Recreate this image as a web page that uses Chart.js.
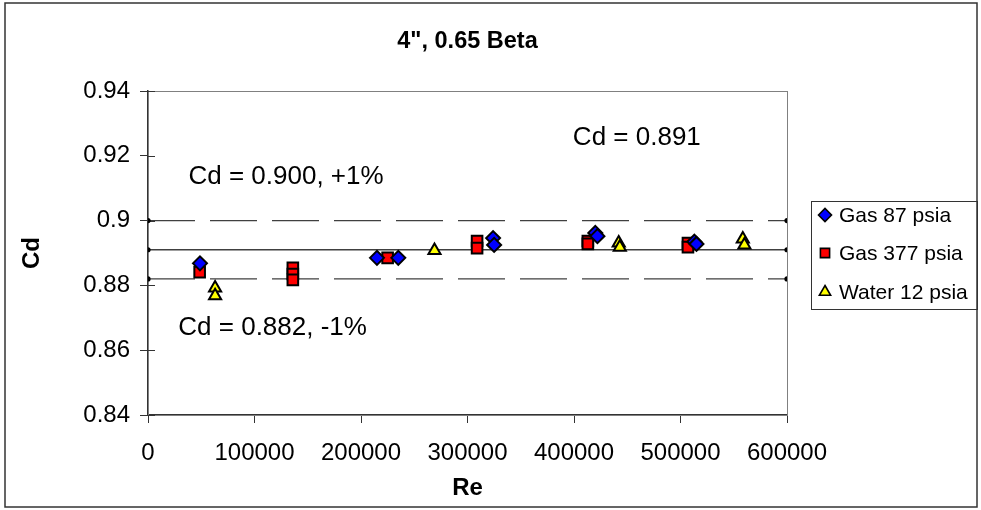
<!DOCTYPE html>
<html>
<head>
<meta charset="utf-8">
<script src="https://cdn.jsdelivr.net/npm/chart.js@4/dist/chart.umd.min.js"></script>
<style>
  html, body { margin: 0; padding: 0; background: #fff; }
  #wrap { width: 981px; height: 510px; position: relative; }
</style>
</head>
<body>
<div id="wrap"><canvas id="c" width="981" height="510"></canvas></div>
<script>
// ---- data ----
const chartTitle = '4", 0.65 Beta';
const xTitle = 'Re';
const yTitle = 'Cd';
const xTicks = [0, 100000, 200000, 300000, 400000, 500000, 600000];
const yTicks = [0.84, 0.86, 0.88, 0.9, 0.92, 0.94];

const gas87Re = [48800, 215000, 235000, 324000, 325000, 420000, 422000, 513000, 515000];
const gas87Cd = [0.8868, 0.8885, 0.8885, 0.8946, 0.8925, 0.8962, 0.8952, 0.8935, 0.8928];

const gas377Re = [48500, 136000, 136000, 136000, 225000, 309000, 309000, 413000, 413000, 507000, 507000];
const gas377Cd = [0.8841, 0.8854, 0.8835, 0.8817, 0.8885, 0.8937, 0.8915, 0.8937, 0.8928, 0.8931, 0.8918];

const water12Re = [63000, 63000, 269000, 442000, 443000, 558500, 560000];
const water12Cd = [0.8792, 0.8768, 0.8908, 0.8931, 0.8918, 0.8943, 0.8925];

const refLineRe = [0, 600000];
const refUpper = [0.900, 0.900];
const refMean = [0.891, 0.891];
const refLower = [0.882, 0.882];

const seriesNames = ['Gas 87 psia', 'Gas 377 psia', 'Water 12 psia'];
const annotationTexts = ['Cd = 0.900, +1%', 'Cd = 0.882, -1%', 'Cd = 0.891'];
const annotationRe = [129600, 117000, 459000];
const annotationCd = [0.9135, 0.8669, 0.9255];

// ---- build chart ----
const FONT = "'Liberation Sans', Arial, sans-serif";
const pts = (xs, ys) => xs.map((x, i) => ({x: x, y: ys[i]}));

const markerStyles = [
  {pointStyle: 'rectRot', color: '#0000ff', radius: 7},
  {pointStyle: 'rect', color: '#ff0000', radius: 7.5},
  {pointStyle: 'triangle', color: '#ffff00', radius: 7}
];

function refLine(ys, dash, color) {
  return {
    type: 'line', data: pts(refLineRe, ys), showLine: true,
    borderColor: color, borderWidth: 1.3, borderDash: dash, borderDashOffset: 0,
    pointRadius: 2.6, pointBackgroundColor: '#000', pointBorderColor: '#000', pointBorderWidth: 0,
    pointStyle: 'circle', fill: false, tension: 0, isRef: true, order: 5
  };
}

const seriesData = [pts(gas87Re, gas87Cd), pts(gas377Re, gas377Cd), pts(water12Re, water12Cd)];
const datasets = [
  refLine(refUpper, [47, 15], '#404040'),
  refLine(refMean, [], '#404040'),
  refLine(refLower, [47, 15], '#404040')
];
seriesData.forEach((d, i) => {
  datasets.push({
    type: 'scatter', label: seriesNames[i], data: d,
    pointStyle: markerStyles[i].pointStyle,
    pointRadius: markerStyles[i].radius,
    pointBackgroundColor: markerStyles[i].color,
    pointBorderColor: '#000', pointBorderWidth: 2,
    showLine: false, order: 1
  });
});

const decorPlugin = {
  id: 'decor',
  beforeDraw(chart) {
    const ctx = chart.ctx;
    ctx.save();
    ctx.fillStyle = '#fff';
    ctx.fillRect(0, 0, chart.width, chart.height);
    ctx.restore();
  },
  beforeDatasetsDraw(chart) {
    const ctx = chart.ctx, a = chart.chartArea;
    ctx.save();
    ctx.strokeStyle = '#808080';
    ctx.lineWidth = 1;
    ctx.strokeRect(Math.round(a.left) + 0.5, Math.round(a.top) + 0.5, Math.round(a.right - a.left), Math.round(a.bottom - a.top));
    // inner halves of the crossing y tick marks
    const ys = chart.scales.y;
    ctx.strokeStyle = '#333';
    ctx.lineWidth = 1;
    ys.ticks.forEach(t => {
      const py = Math.round(ys.getPixelForValue(t.value)) + 0.5;
      ctx.beginPath(); ctx.moveTo(a.left, py); ctx.lineTo(a.left + 7, py); ctx.stroke();
    });
    ctx.restore();
  },
  afterDraw(chart) {
    const ctx = chart.ctx;
    const xs = chart.scales.x, ys = chart.scales.y;
    ctx.save();
    // outer chart border
    ctx.strokeStyle = '#333';
    ctx.lineWidth = 1.5;
    ctx.strokeRect(5, 3, 972, 504);
    // title
    ctx.fillStyle = '#000';
    ctx.textAlign = 'center';
    ctx.textBaseline = 'middle';
    ctx.font = 'bold 23.5px ' + FONT;
    ctx.fillText(chartTitle, (chart.chartArea.left + chart.chartArea.right) / 2, 42);
    // annotations
    ctx.font = '26px ' + FONT;
    annotationTexts.forEach((t, i) => {
      ctx.fillText(t, xs.getPixelForValue(annotationRe[i]), ys.getPixelForValue(annotationCd[i]));
    });
    // legend
    const lx = 811, ly = 201, lw = 166, lh = 108;
    ctx.strokeStyle = '#333';
    ctx.lineWidth = 1;
    ctx.strokeRect(lx + 0.5, ly + 0.5, lw, lh);
    ctx.font = '21px ' + FONT;
    ctx.textAlign = 'left';
    const rowY = [215, 253, 292];
    const legR = [6.5, 6.5, 6.5];
    seriesNames.forEach((n, i) => {
      const m = markerStyles[i];
      ctx.fillStyle = m.color;
      ctx.strokeStyle = '#000';
      ctx.lineWidth = 1.6;
      Chart.helpers.drawPoint(ctx, {pointStyle: m.pointStyle, radius: legR[i], borderWidth: 1.6, rotation: 0}, 825, rowY[i]);
      ctx.fillStyle = '#000';
      ctx.fillText(n, 839, rowY[i] + 1);
    });
    ctx.restore();
  }
};

new Chart(document.getElementById('c'), {
  type: 'scatter',
  data: {datasets: datasets},
  options: {
    responsive: false,
    animation: false,
    devicePixelRatio: 1,
    layout: {padding: {left: 0, top: 91, right: 194, bottom: 0}},
    plugins: {legend: {display: false}, tooltip: {enabled: false}, title: {display: false}},
    scales: {
      x: {
        type: 'linear', min: 0, max: 600000,
        afterBuildTicks: s => { s.ticks = xTicks.map(v => ({value: v})); },
        afterFit: s => { s.height = 95; },
        ticks: {callback: v => String(v), color: '#000', font: {family: FONT, size: 24}, padding: 16, maxRotation: 0, autoSkip: false},
        grid: {drawOnChartArea: false, drawTicks: true, tickLength: 8, color: '#333', lineWidth: 1},
        border: {display: true, color: '#333', width: 1.5},
        title: {display: true, text: xTitle, color: '#000', font: {family: FONT, size: 24, weight: 'bold'}, padding: {top: 0, bottom: 7}}
      },
      y: {
        type: 'linear', min: 0.84, max: 0.94,
        afterBuildTicks: s => { s.ticks = yTicks.map(v => ({value: v})); },
        afterFit: s => { s.width = 148; },
        ticks: {callback: v => String(v), color: '#000', font: {family: FONT, size: 24}, padding: 10, autoSkip: false},
        grid: {drawOnChartArea: false, drawTicks: true, tickLength: 8, color: '#333', lineWidth: 1},
        border: {display: true, color: '#333', width: 1.5},
        title: {display: true, text: yTitle, color: '#000', font: {family: FONT, size: 24, weight: 'bold'}, padding: {top: 18, bottom: 0}}
      }
    }
  },
  plugins: [decorPlugin]
});
</script>
</body>
</html>
